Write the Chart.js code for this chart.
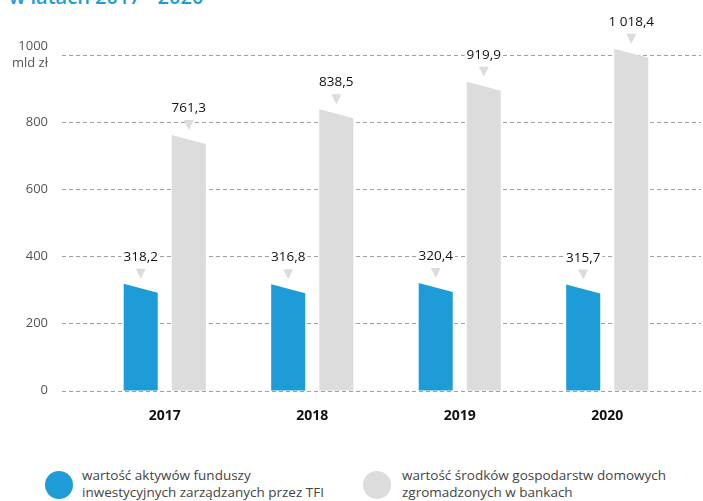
<!DOCTYPE html>
<html><head><meta charset="utf-8">
<script src="https://cdn.jsdelivr.net/npm/chart.js@4"></script>
<style>
body{margin:0;width:703px;height:501px;overflow:hidden;background:#fff;font-family:'Open Sans',sans-serif;position:relative}
#title{position:absolute;left:9px;top:-13.5px;color:#1E9CD7;font-size:20px;line-height:20px;font-weight:600;white-space:nowrap}
#wrap{position:absolute;left:0;top:0;width:703px;height:446px}
.leg{position:absolute;top:467px;font-size:13.5px;line-height:17px;color:#444;white-space:nowrap}
.dot{position:absolute;top:471px;width:28px;height:28px;border-radius:50%}
</style></head>
<body>
<div id="title">w latach 2017 - 2020</div>
<div id="wrap"><canvas id="c" width="703" height="446"></canvas></div>
<div class="dot" id="d0" style="left:45px"></div>
<div class="leg" id="l0" style="left:82px"></div>
<div class="dot" id="d1" style="left:363px"></div>
<div class="leg" id="l1" style="left:402px"></div>
<script>
const categories=['2017','2018','2019','2020'];
const tfiValues=[318.2,316.8,320.4,315.7];
const bankValues=[761.3,838.5,919.9,1018.4];
const yTickValues=[0,200,400,600,800,1000];
const unitLabel='mld zł';
const seriesLines=[
  ['wartość aktywów funduszy','inwestycyjnych zarządzanych przez TFI'],
  ['wartość środków gospodarstw domowych','zgromadzonych w bankach']
];
const BLUE='#1E9CD7', GRAY='#DCDCDC';
const seriesColors=[BLUE,GRAY];

function fmt(v){const p=v.toFixed(1).split('.');return p[0].replace(/\B(?=(\d{3})+(?!\d))/g,' ')+','+p[1];}

seriesLines.forEach((ls,i)=>{
  document.getElementById('l'+i).innerHTML=ls.join('<br>');
  document.getElementById('d'+i).style.background=seriesColors[i];
});

const slantBars={
  id:'slantBars',
  beforeDatasetsDraw(chart){
    const {ctx,chartArea,scales:{y}}=chart;
    ctx.save();ctx.strokeStyle='#a0a0a0';ctx.lineWidth=1;ctx.setLineDash([4,3]);
    yTickValues.forEach(v=>{const py=Math.round(y.getPixelForValue(v))+0.5;ctx.beginPath();ctx.moveTo(chartArea.left-29,py);ctx.lineTo(chartArea.right+20,py);ctx.stroke();});
    ctx.restore();
  },
  afterDatasetsDraw(chart){
    const ctx=chart.ctx;
    chart.data.datasets.forEach((ds,di)=>{
      const meta=chart.getDatasetMeta(di);
      meta.data.forEach((bar,i)=>{
        const {x,y,base,width}=bar.getProps(['x','y','base','width'],true);
        const l=x-width/2,r=x+width/2;
        ctx.save();
        ctx.fillStyle=ds.fillColor;
        ctx.beginPath();ctx.moveTo(l,base);ctx.lineTo(l,y);ctx.lineTo(r,y+9);ctx.lineTo(r,base);ctx.closePath();ctx.fill();
        ctx.fillStyle=GRAY;
        ctx.beginPath();ctx.moveTo(x-5,y-15);ctx.lineTo(x+5,y-15);ctx.lineTo(x,y-5);ctx.closePath();ctx.fill();
        ctx.font='13.5px "Open Sans"';
        const t=fmt(ds.data[i]);const tw=ctx.measureText(t).width;
        ctx.fillStyle='#fff';ctx.fillRect(x-tw/2-2,y-37,tw+4,17);
        ctx.fillStyle='#111';ctx.textAlign='center';ctx.textBaseline='alphabetic';ctx.fillText(t,x,y-23);
        ctx.restore();
      });
    });
  }
};

new Chart(document.getElementById('c'),{
  type:'bar',
  data:{labels:categories,datasets:[
    {label:seriesLines[0].join(' '),data:tfiValues,backgroundColor:'rgba(0,0,0,0)',fillColor:BLUE},
    {label:seriesLines[1].join(' '),data:bankValues,backgroundColor:'rgba(0,0,0,0)',fillColor:GRAY}
  ]},
  options:{
    responsive:false,animation:false,events:[],
    layout:{padding:{top:55,right:22,bottom:4.7,left:0}},
    datasets:{bar:{categoryPercentage:0.652,barPercentage:0.708,clip:false}},
    plugins:{legend:{display:false},tooltip:{enabled:false}},
    scales:{
      x:{grid:{display:false,drawTicks:false},border:{display:false},
         ticks:{color:'#111',font:{family:'Open Sans',size:14,weight:'bold'},padding:17}},
      y:{min:0,max:1000,grid:{display:false,drawTicks:false},border:{display:false},
         afterBuildTicks(s){s.ticks=yTickValues.map(v=>({value:v}));},
         afterFit(s){s.width=91;s.paddingTop=0;s.paddingBottom=0;},
         ticks:{padding:43,color:'#555',font:{family:'Open Sans',size:13,lineHeight:1.3},
           callback:(v)=>v===1000?[String(v),unitLabel]:String(v)}}
    }
  },
  plugins:[slantBars]
});
</script>
</body></html>
